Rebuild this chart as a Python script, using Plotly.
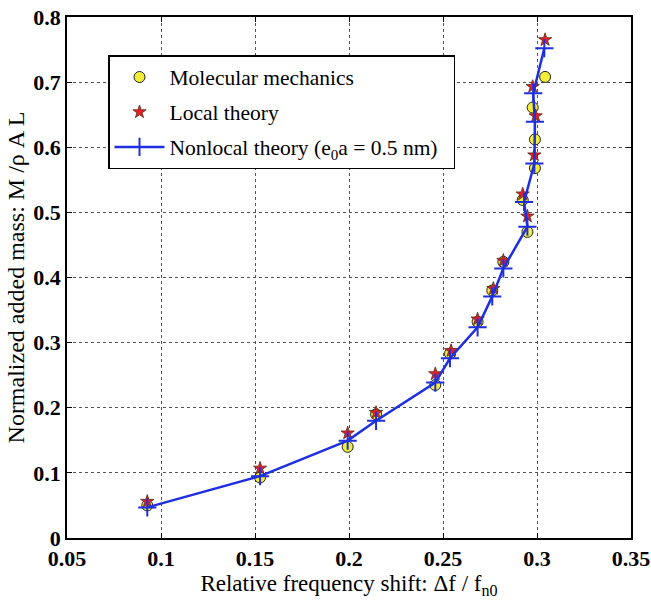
import plotly.graph_objects as go

# Molecular mechanics
mm_x = [0.0927, 0.1527, 0.1993, 0.2144, 0.2459, 0.2537, 0.2684, 0.2762, 0.2821, 0.2949, 0.2924, 0.2989, 0.2989, 0.2977, 0.3043]
mm_y = [0.050, 0.093, 0.140, 0.190, 0.235, 0.283, 0.332, 0.380, 0.424, 0.470, 0.519, 0.568, 0.612, 0.661, 0.708]
# Local theory
local_x = [0.0927, 0.1527, 0.1993, 0.2144, 0.2459, 0.2543, 0.2684, 0.2768, 0.2821, 0.2949, 0.2924, 0.2986, 0.2993, 0.2977, 0.3043]
local_y = [0.056, 0.107, 0.161, 0.1925, 0.252, 0.2876, 0.336, 0.383, 0.426, 0.494, 0.528, 0.588, 0.648, 0.693, 0.765]
# Nonlocal theory
nl_x = [0.0927, 0.1527, 0.1993, 0.2144, 0.2459, 0.2537, 0.2684, 0.2762, 0.2821, 0.2949, 0.2931, 0.2986, 0.2989, 0.2980, 0.3039]
nl_y = [0.047, 0.095, 0.1495, 0.180, 0.2386, 0.276, 0.3235, 0.371, 0.414, 0.478, 0.516, 0.575, 0.639, 0.683, 0.752]

x_ticks = [0.05, 0.1, 0.15, 0.2, 0.25, 0.3, 0.35]
x_tick_labels = ["0.05", "0.1", "0.15", "0.2", "0.25", "0.3", "0.35"]
y_ticks = [0, 0.1, 0.2, 0.3, 0.4, 0.5, 0.6, 0.7, 0.8]
y_tick_labels = ["0", "0.1", "0.2", "0.3", "0.4", "0.5", "0.6", "0.7", "0.8"]

SERIF = "Liberation Serif, Times New Roman, serif"

fig = go.Figure()
fig.add_trace(go.Scatter(
    x=mm_x, y=mm_y, mode="markers", name="Molecular mechanics",
    legendgroup="a",
    marker=dict(symbol="circle", size=11, color="#f2ee3a",
                line=dict(color="#222222", width=1)),
))
fig.add_trace(go.Scatter(
    x=local_x, y=local_y, mode="markers", name="Local theory",
    legendgroup="b",
    marker=dict(symbol="star", size=10, color="#e5202a",
                line=dict(color="#5a2a10", width=0.8)),
))
fig.add_trace(go.Scatter(
    x=nl_x, y=nl_y, mode="lines+markers",
    name="Nonlocal theory (e<sub>0</sub>a = 0.5 nm)\u00a0\u00a0",
    legendgroup="c",
    line=dict(color="#1e2fe0", width=2.5),
    marker=dict(symbol="cross-thin", size=13, color="#1e2fe0",
                line=dict(color="#1e2fe0", width=2)),
))

axis_common = dict(
    showline=True, linecolor="black", linewidth=1.5, mirror="ticks",
    ticks="inside", ticklen=5, tickcolor="black", tickwidth=1,
    showgrid=True, gridcolor="#555555", griddash="dot", gridwidth=1,
    zeroline=False, automargin=False, ticklabeloverflow="allow",
    tickfont=dict(family=SERIF, size=22, color="black", weight="bold"),
)

fig.update_xaxes(
    range=[0.05, 0.35], tickvals=x_ticks, ticktext=x_tick_labels,
    title=dict(text="Relative frequency shift: \u0394f / f<sub>n0</sub>",
               font=dict(family=SERIF, size=23, color="black"), standoff=2),
    **axis_common,
)
fig.update_yaxes(
    range=[0, 0.8], tickvals=y_ticks, ticktext=y_tick_labels,
    title=dict(text="Normalized added mass: M /\u03c1 A L",
               font=dict(family=SERIF, size=24, color="black"), standoff=2),
    **axis_common,
)

fig.update_layout(
    width=651, height=609,
    margin=dict(l=67, r=20, t=17, b=71),
    paper_bgcolor="white", plot_bgcolor="white",
    showlegend=True,
    legend=dict(
        x=0.0727, y=0.927, xanchor="left", yanchor="top",
        bgcolor="white", bordercolor="black", borderwidth=1.5,
        font=dict(family=SERIF, size=21.5, color="black"),
        traceorder="grouped", tracegroupgap=4,
        itemwidth=50,
    ),
)

# remove the browser's default page margin so the figure sits at the window origin
fig.write_html(
    "out.html",
    config={"displayModeBar": False},
    post_script="document.body.style.margin='0';document.body.style.overflow='hidden';",
)
